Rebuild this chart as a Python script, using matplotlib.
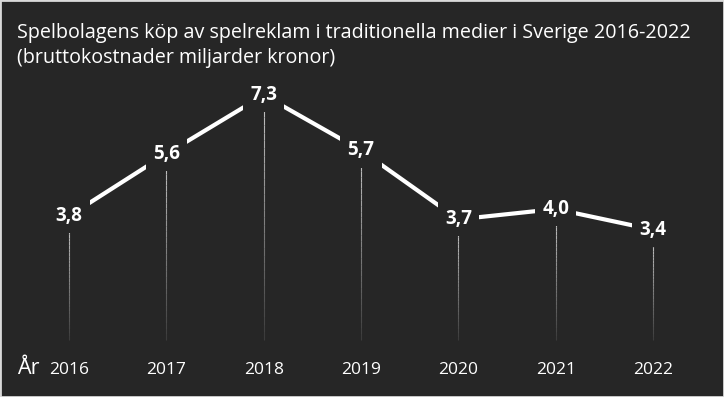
import numpy as np
import matplotlib.pyplot as plt
from matplotlib.patches import Rectangle

# data
years = [2016, 2017, 2018, 2019, 2020, 2021, 2022]
values = [3.8, 5.6, 7.3, 5.7, 3.7, 4.0, 3.4]
labels = ["3,8", "5,6", "7,3", "5,7", "3,7", "4,0", "3,4"]
title = "Spelbolagens köp av spelreklam i traditionella medier i Sverige 2016-2022\n(bruttokostnader miljarder kronor)"

BG = "#262626"
plt.rcParams['font.family'] = ['Open Sans', 'DejaVu Sans']

fig = plt.figure(figsize=(7.24, 3.97), dpi=100, facecolor=BG)
ax = fig.add_axes([0, 0, 1, 1])
ax.set_facecolor(BG)
ax.set_xlim(2015.29, 2022.73)
ax.set_ylim(-1.45, 10.06)
ax.axis('off')

# drop lines, fading towards the bottom
for x, v in zip(years, values):
    top = v - 0.42
    bottom = 0.2
    n = 30
    edges = np.linspace(top, bottom, n + 1)
    for i in range(n):
        a = 0.75 * (1 - i / n) + 0.1
        ax.plot([x, x], [edges[i], edges[i + 1]], color="#d8d8d8", lw=0.8,
                alpha=a, solid_capstyle='butt', zorder=1)

ax.plot(years, values, color="white", lw=3.0, zorder=2)

for x, v, t in zip(years, values, labels):
    ax.text(x, v, t, ha='center', va='center', color='white', fontsize=13.5,
            fontweight='bold', zorder=3,
            bbox=dict(boxstyle='square,pad=0.38', fc=BG, ec='none'))

for x in years:
    ax.text(x, -0.68, str(x), ha='center', va='center', color='white', fontsize=12.5)

ax.text(17 / 724, 1 - 368 / 397, "År", transform=ax.transAxes, ha='left', va='center',
        color='white', fontsize=15.5)

fig.text(17 / 724, 1 - 23 / 397, title, ha='left', va='top', color='white',
         fontsize=14.2, linespacing=1.3)

fig.patches.append(Rectangle((0, 0), 1, 1, transform=fig.transFigure, fill=False,
                             ec="#d9d9d9", lw=2, zorder=10))

fig.savefig("out.png", dpi=100, facecolor=BG)
